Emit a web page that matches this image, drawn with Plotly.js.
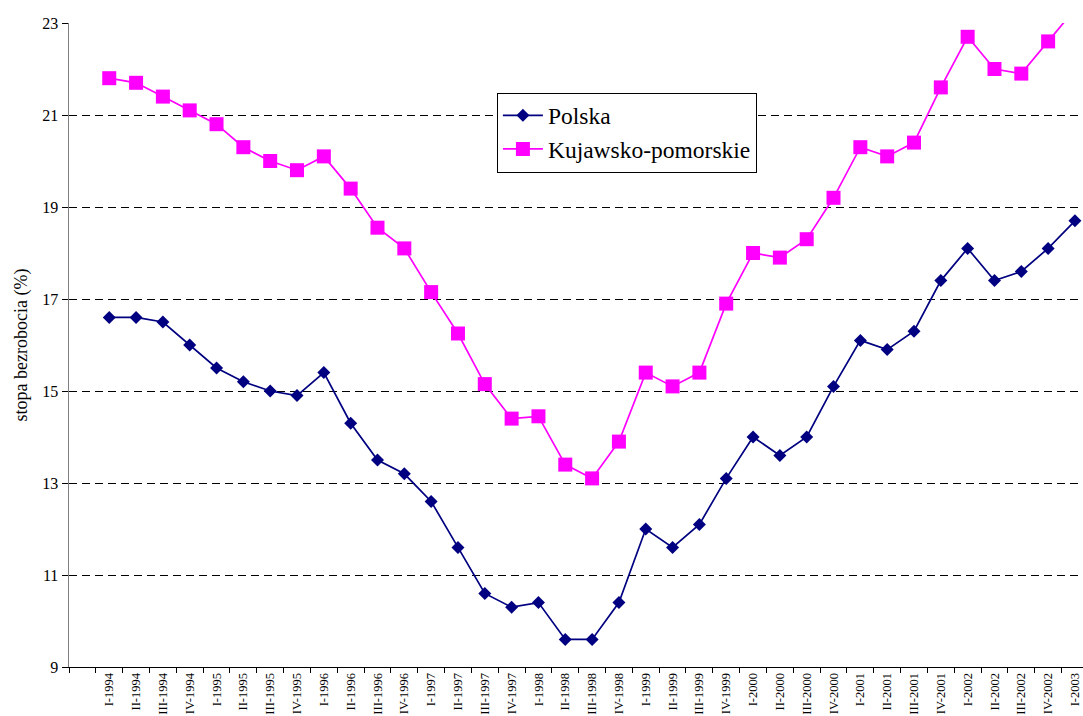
<!DOCTYPE html>
<html>
<head>
<meta charset="utf-8">
<script src="https://cdn.plot.ly/plotly-3.0.1.min.js"></script>
<style>html,body{margin:0;padding:0;background:#fff;}#chart{width:1083px;height:716px;}</style>
</head>
<body>
<div id="chart"></div>
<script>
const periods = [
  "I-1994","II-1994","III-1994","IV-1994",
  "I-1995","II-1995","III-1995","IV-1995",
  "I-1996","II-1996","III-1996","IV-1996",
  "I-1997","II-1997","III-1997","IV-1997",
  "I-1998","II-1998","III-1998","IV-1998",
  "I-1999","II-1999","III-1999","IV-1999",
  "I-2000","II-2000","III-2000","IV-2000",
  "I-2001","II-2001","III-2001","IV-2001",
  "I-2002","II-2002","III-2002","IV-2002",
  "I-2003"
];
const polska = [
  16.6,16.6,16.5,16.0,
  15.5,15.2,15.0,14.9,
  15.4,14.3,13.5,13.2,
  12.6,11.6,10.6,10.3,
  10.4,9.6,9.6,10.4,
  12.0,11.6,12.1,13.1,
  14.0,13.6,14.0,15.1,
  16.1,15.9,16.3,17.4,
  18.1,17.4,17.6,18.1,
  18.7
];
const kujawsko = [
  21.8,21.7,21.4,21.1,
  20.8,20.3,20.0,19.8,
  20.1,19.4,18.55,18.1,
  17.15,16.25,15.15,14.4,
  14.45,13.4,13.1,13.9,
  15.4,15.1,15.4,16.9,
  18.0,17.9,18.3,19.2,
  20.3,20.1,20.4,21.6,
  22.7,22.0,21.9,22.6,
  23.3
];
const idx = periods.map((p, i) => i);

const serif = "Liberation Serif";

const traces = [
  {
    x: idx, y: polska, name: "Polska", type: "scatter", mode: "lines+markers",
    line: {color: "#000080", width: 1.7},
    marker: {symbol: "diamond", size: 10, color: "#000080"}
  },
  {
    x: idx, y: kujawsko, name: "Kujawsko-pomorskie", type: "scatter", mode: "lines+markers",
    line: {color: "#FF00FF", width: 1.7},
    marker: {symbol: "square", size: 14, color: "#FF00FF"}
  }
];

const layout = {
  width: 1083, height: 716,
  margin: {l: 69, r: 0, t: 23, b: 49},
  paper_bgcolor: "#fff", plot_bgcolor: "#fff",
  font: {family: serif, color: "#000"},
  showlegend: true,
  legend: {
    x: 0.422, y: 0.892, xanchor: "left", yanchor: "top",
    bordercolor: "#000", borderwidth: 1, bgcolor: "#fff",
    font: {family: serif, size: 23.5, color: "#000"},
    itemwidth: 40,
    tracegroupgap: 0
  },
  xaxis: {
    range: [-1.5, 36.3],
    tickmode: "array", tickvals: idx, ticktext: periods,
    tickangle: -90, ticks: "", showgrid: false, zeroline: false,
    tickfont: {family: serif, size: 12.5, color: "#000"},
    ticklabeloverflow: "allow",
    showline: true, linecolor: "#000", linewidth: 1,
    automargin: false,
    minor: {ticks: "outside", tickmode: "linear", tick0: -0.5, dtick: 1, ticklen: 5, tickcolor: "#000", showgrid: false}
  },
  yaxis: {
    range: [9, 23], tickmode: "linear", tick0: 9, dtick: 2,
    ticks: "outside", ticklen: 6, tickcolor: "#000",
    showgrid: true, gridcolor: "#000", gridwidth: 1, griddash: "8px,5px",
    zeroline: false,
    showline: true, linecolor: "#808080", linewidth: 1.5,
    tickfont: {family: serif, size: 16, color: "#000"},
    title: {text: "stopa bezrobocia (%)", font: {family: serif, size: 18, color: "#000"}, standoff: 10},
    automargin: false
  }
};

Plotly.newPlot("chart", traces, layout, {displayModeBar: false, staticPlot: true});
</script>
</body>
</html>
